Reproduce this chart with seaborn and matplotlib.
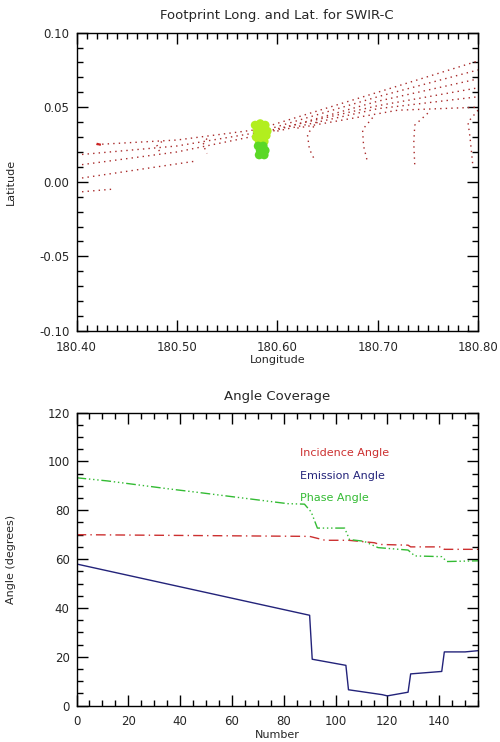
import numpy as np
import pandas as pd
import matplotlib
matplotlib.use("Agg")
import matplotlib.pyplot as plt
import seaborn as sns
from matplotlib.ticker import MultipleLocator, FormatStrFormatter

# ------------------------------
# Footprint tracks (longitude, latitude)
# ------------------------------
track_lon = [
    [180.42, 180.50, 180.58, 180.70, 180.80],
    [180.40, 180.50, 180.58, 180.70, 180.80],
    [180.40, 180.50, 180.58, 180.70, 180.80],
    [180.40, 180.47, 180.52],
    [180.40, 180.435],
    [180.59, 180.70, 180.80],
    [180.60, 180.70, 180.80],
    [180.62, 180.72, 180.80],
]
track_lat = [
    [0.025, 0.028, 0.035, 0.060, 0.081],
    [0.018, 0.024, 0.033, 0.057, 0.075],
    [0.011, 0.020, 0.031, 0.054, 0.069],
    [0.002, 0.009, 0.014],
    [-0.007, -0.005],
    [0.034, 0.051, 0.063],
    [0.034, 0.049, 0.057],
    [0.036, 0.048, 0.050],
]
hook_lon = [
    [180.485, 180.480, 180.483],
    [180.530, 180.526, 180.530],
    [180.640, 180.630, 180.632, 180.637],
    [180.695, 180.685, 180.686, 180.690],
    [180.750, 180.737, 180.736, 180.737],
    [180.800, 180.790, 180.792, 180.795],
]
hook_lat = [
    [0.027, 0.024, 0.020],
    [0.029, 0.025, 0.019],
    [0.040, 0.032, 0.022, 0.015],
    [0.043, 0.035, 0.024, 0.013],
    [0.046, 0.038, 0.026, 0.011],
    [0.048, 0.040, 0.030, 0.010],
]

# short heavier red marks at the start of the upper track
mark_lon = [180.420, 180.426]
mark_lat = [0.0255, 0.0245]

# SWIR-C footprint blob
blob_top_lon = [180.578, 180.583, 180.588, 180.580, 180.585, 180.590, 180.579, 180.584, 180.589, 180.582, 180.587]
blob_top_lat = [0.038, 0.039, 0.038, 0.034, 0.035, 0.034, 0.030, 0.030, 0.031, 0.027, 0.027]
blob_low_lon = [180.581, 180.586, 180.583, 180.588, 180.582, 180.587]
blob_low_lat = [0.024, 0.024, 0.021, 0.021, 0.018, 0.018]

# ------------------------------
# Angle coverage
# ------------------------------
emis_x = [0, 90, 91, 104, 105, 118, 120, 128, 129, 141, 142, 150, 155]
emis_y = [58, 37, 19, 16.5, 6.5, 4.5, 4.0, 5.5, 13, 14, 22, 22, 22.5]

inc_x = [0, 90, 96, 105, 115, 117, 128, 129, 141, 142, 155]
inc_y = [70, 69.3, 67.7, 67.7, 66.7, 66, 65.7, 65, 65, 64, 64]

phase_x = [0, 12, 36, 47, 81.5, 88, 90.6, 93, 103.5, 105.4, 111, 116.4, 128, 130.6, 141, 143, 155]
phase_y = [93.3, 92, 88.7, 87.3, 82.7, 82.5, 79.3, 72.7, 72.7, 68, 67.3, 64.7, 63.7, 61.3, 61, 59, 59.3]

sns.set_style("ticks")
plt.rcParams['font.family'] = ['DejaVu Sans']

fig = plt.figure(figsize=(5, 7.42), dpi=100)
ax1 = fig.add_axes([0.153, 0.554, 0.803, 0.402])
ax2 = fig.add_axes([0.153, 0.049, 0.803, 0.395])

dot_red = '#a82a2a'
for lon, lat in zip(track_lon + hook_lon, track_lat + hook_lat):
    sns.lineplot(x=lon, y=lat, ax=ax1, sort=False, estimator=None, color=dot_red,
                 linewidth=1.0, linestyle=(0, (1, 3)))
sns.lineplot(x=mark_lon, y=mark_lat, ax=ax1, sort=False, estimator=None, color='#cc2222',
             linewidth=1.6, linestyle=(0, (2, 1.5)))

sns.scatterplot(x=blob_top_lon, y=blob_top_lat, ax=ax1, color='#b2ee1e', s=40,
                edgecolor='none', zorder=5)
sns.scatterplot(x=blob_low_lon, y=blob_low_lat, ax=ax1, color='#5ad826', s=40,
                edgecolor='none', zorder=5)

ax1.set_xlim(180.40, 180.80)
ax1.set_ylim(-0.10, 0.10)
ax1.xaxis.set_major_locator(MultipleLocator(0.1))
ax1.xaxis.set_minor_locator(MultipleLocator(0.01))
ax1.yaxis.set_major_locator(MultipleLocator(0.05))
ax1.yaxis.set_minor_locator(MultipleLocator(0.01))
ax1.xaxis.set_major_formatter(FormatStrFormatter('%.2f'))
ax1.yaxis.set_major_formatter(FormatStrFormatter('%.2f'))
ax1.set_title('Footprint Long. and Lat. for SWIR-C', fontsize=9.5, pad=10)
ax1.set_xlabel('Longitude', fontsize=8, labelpad=1)
ax1.set_ylabel('Latitude', fontsize=8)

sns.lineplot(x=inc_x, y=inc_y, ax=ax2, color='#cc3030', linewidth=1.0,
             linestyle=(0, (7, 3, 1, 3)))
sns.lineplot(x=emis_x, y=emis_y, ax=ax2, color='#23237a', linewidth=1.0)
sns.lineplot(x=phase_x, y=phase_y, ax=ax2, color='#33bb33', linewidth=1.0,
             linestyle=(0, (7, 2, 1, 2, 1, 2, 1, 2)))

ax2.text(0.557, 0.862, 'Incidence Angle', color='#cc3030', fontsize=8, transform=ax2.transAxes, va='center')
ax2.text(0.557, 0.784, 'Emission Angle', color='#23237a', fontsize=8, transform=ax2.transAxes, va='center')
ax2.text(0.557, 0.709, 'Phase Angle', color='#33bb33', fontsize=8, transform=ax2.transAxes, va='center')

ax2.set_xlim(0, 155)
ax2.set_ylim(0, 120)
ax2.xaxis.set_major_locator(MultipleLocator(20))
ax2.xaxis.set_minor_locator(MultipleLocator(5))
ax2.yaxis.set_major_locator(MultipleLocator(20))
ax2.yaxis.set_minor_locator(MultipleLocator(5))
ax2.set_title('Angle Coverage', fontsize=9.5, pad=9)
ax2.set_xlabel('Number', fontsize=8, labelpad=1)
ax2.set_ylabel('Angle (degrees)', fontsize=8)

for ax in (ax1, ax2):
    ax.tick_params(which='both', direction='in', top=True, right=True, labelsize=8.5, color='black')
    ax.tick_params(which='major', length=8, width=1)
    ax.tick_params(which='minor', length=4, width=1)
    ax.tick_params(axis='x', which='major', pad=7)
    ax.tick_params(axis='y', which='major', pad=5)
    ax.yaxis.set_label_coords(-0.15, 0.5)
    for sp in ax.spines.values():
        sp.set_color('black')
        sp.set_linewidth(1.0)

fig.savefig('out.png', dpi=100)
